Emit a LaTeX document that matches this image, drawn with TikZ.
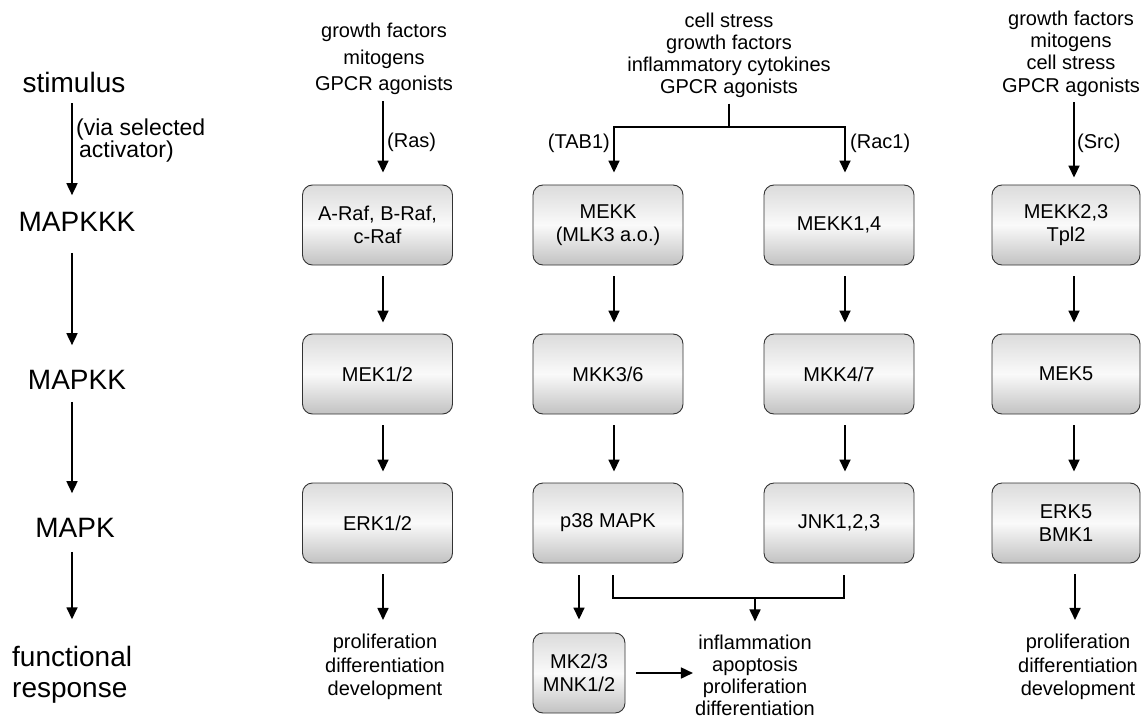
\documentclass[tikz,border=0pt]{standalone}
\usepackage{fontspec}
\setmainfont{Liberation Sans}
\usetikzlibrary{arrows.meta,calc}
\newcommand\fsn{\fontsize{20}{23}\selectfont}
\begin{document}
\begin{tikzpicture}[x=1pt,y=-1pt,
  kbox/.style={rectangle,rounded corners=10pt,draw=black!80,line width=0.9pt,
    minimum width=150pt,minimum height=80pt,
    top color=gray!28,bottom color=gray!48,middle color=gray!4,
    align=center,font=\fsn,inner sep=2pt},
  txt/.style={align=center,inner sep=0pt,font=\fsn},
  big/.style={inner sep=0pt,font=\fontsize{28}{31}\selectfont},
  conn/.style={line width=1.7pt},
  arr/.style={conn,-{Triangle[width=11pt,length=12pt]}},
]
\fill[white] (0,0) rectangle (1142,722);
\useasboundingbox (0,0) rectangle (1142,722);

% left column labels
\node[big] (stim) at (74,82) {stimulus};
\node[inner sep=0pt,align=left,anchor=west,font=\fontsize{23}{22}\selectfont] (via) at (76,141) {(via selected\\\hspace*{3pt}activator)};
\node[big] (mkkk) at (77,222) {MAPKKK};
\node[big] (mkk) at (77,380) {MAPKK};
\node[big] (mk) at (75,528) {MAPK};
\node[big,align=left,anchor=west] (func) at (12,675) {functional\\response};
\coordinate (lx) at (72,0);
\draw[arr,shorten <=11pt,shorten >=17pt] (stim.south -| lx) -- (mkkk.north -| lx);
\draw[arr,shorten <=21pt,shorten >=25pt] (mkkk.south -| lx) -- (mkk.north -| lx);
\draw[arr,shorten <=12pt,shorten >=25pt] (mkk.south -| lx) -- (mk.north -| lx);
\draw[arr,shorten <=14pt,shorten >=27pt] (mk.south -| lx) -- (func.north -| lx);

% stimuli
\node[txt,font=\fontsize{20}{26.5}\selectfont] (t1) at (384,59) {growth factors\\mitogens\\GPCR agonists};
\node[txt,font=\fontsize{20}{22}\selectfont] (t2) at (729,55) {cell stress\\growth factors\\inflammatory cytokines\\GPCR agonists};
\node[txt,font=\fontsize{20}{22.3}\selectfont] (t4) at (1071,53.5) {growth factors\\mitogens\\cell stress\\GPCR agonists};

\node[txt,anchor=west] (ras) at (387,142) {(Ras)};
\node[txt,anchor=east] (tab) at (610,143) {(TAB1)};
\node[txt,anchor=west] (rac) at (850,143) {(Rac1)};
\node[txt,anchor=west] (src) at (1077,143) {(Src)};

% boxes
\node[kbox] (a1) at (377.5,225) {A-Raf, B-Raf,\\c-Raf};
\node[kbox] (a2) at (377.5,374) {MEK1/2};
\node[kbox] (a3) at (377.5,523) {ERK1/2};
\node[kbox] (b1) at (608,225) {MEKK\\(MLK3 a.o.)};
\node[kbox] (b2) at (608,374) {MKK3/6};
\node[kbox] (b3) at (608,523) {p38 MAPK};
\node[kbox] (c1) at (839,225) {MEKK1,4};
\node[kbox] (c2) at (839,374) {MKK4/7};
\node[kbox] (c3) at (839,523) {JNK1,2,3};
\node[kbox,minimum width=148pt] (d1) at (1066,225) {MEKK2,3\\Tpl2};
\node[kbox,minimum width=148pt] (d2) at (1066,374) {MEK5};
\node[kbox,minimum width=148pt] (d3) at (1066,523) {ERK5\\BMK1};
\node[kbox,minimum width=92pt] (m) at (579,673) {MK2/3\\MNK1/2};

% responses
\node[txt,font=\fontsize{20}{23.5}\selectfont] (r1) at (385,667) {proliferation\\differentiation\\development};
\node[txt,font=\fontsize{20}{23.5}\selectfont] (r4) at (1078,667) {proliferation\\differentiation\\development};
\node[txt,font=\fontsize{20}{22}\selectfont] (resp) at (755,675) {inflammation\\apoptosis\\proliferation\\differentiation};

% top arrows
\draw[arr,shorten <=6pt,shorten >=12pt] ([xshift=-1pt]t1.south) -- ([xshift=5.5pt]a1.north);
\coordinate (split) at (729,127);
\draw[conn,shorten <=6pt] (t2.south) -- (split);
\draw[arr,shorten >=12pt] (split) -| ([xshift=6pt]b1.north);
\draw[arr,shorten >=12pt] (split) -| ([xshift=6pt]c1.north);
\draw[arr,shorten <=6pt,shorten >=7pt] ([xshift=3pt]t4.south) -- ([xshift=8pt]d1.north);

% cascade arrows
\foreach \c/\s in {a/5.5,b/6,c/6,d/8}{
  \draw[arr,shorten <=11pt,shorten >=11pt] ([xshift=\s pt]\c1.south) -- ([xshift=\s pt]\c2.north);
  \draw[arr,shorten <=11pt,shorten >=11pt] ([xshift=\s pt]\c2.south) -- ([xshift=\s pt]\c3.north);
}

% bottom arrows
\draw[arr,shorten <=11pt,shorten >=14pt] ([xshift=5.5pt]a3.south) -- ([xshift=-2pt]r1.north);
\draw[arr,shorten <=11pt,shorten >=14pt] ([xshift=9pt]d3.south) -- ([xshift=-3pt]r4.north);
\draw[arr,shorten <=12pt,shorten >=13pt] (m.north |- b3.south) -- (m.north);
\coordinate (bj) at (755,598);
\draw[conn] ([xshift=5pt,yshift=-12pt]b3.south) |- (bj) -| ([xshift=5pt,yshift=-12pt]c3.south);
\draw[arr,shorten >=13pt] (bj) -- (resp.north);
\draw[arr,shorten <=11pt,shorten >=2pt] (m.east) -- (m.east -| resp.west);
\end{tikzpicture}
\end{document}
